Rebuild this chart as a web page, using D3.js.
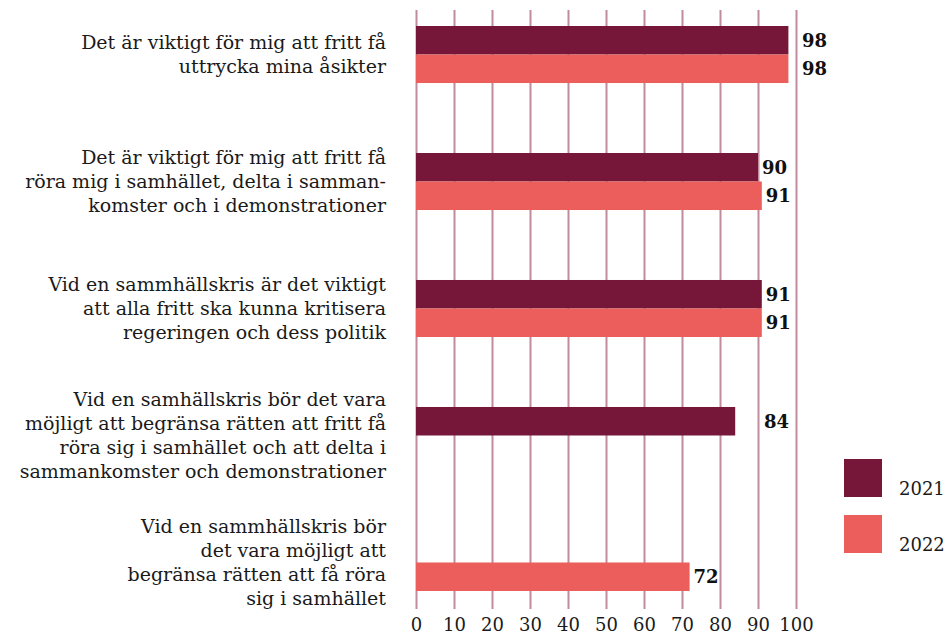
<!DOCTYPE html>
<html>
<head>
<meta charset="utf-8">
<script src="https://cdn.jsdelivr.net/npm/d3@7"></script>
<style>
  body { margin: 0; background: #fff; }
  svg text { font-family: "DejaVu Serif", serif; }
</style>
</head>
<body>
<div id="chart"></div>
<script>
// statements, one array of lines each
var statements = [
  ["Det är viktigt för mig att fritt få", "uttrycka mina åsikter"],
  ["Det är viktigt för mig att fritt få", "röra mig i samhället, delta i samman-", "komster och i demonstrationer"],
  ["Vid en sammhällskris är det viktigt", "att alla fritt ska kunna kritisera", "regeringen och dess politik"],
  ["Vid en samhällskris bör det vara", "möjligt att begränsa rätten att fritt få", "röra sig i samhället och att delta i", "sammankomster och demonstrationer"],
  ["Vid en sammhällskris bör", "det vara möjligt att", "begränsa rätten att få röra", "sig i samhället"]
];
var years = ["2021", "2022"];
var values2021 = [98, 90, 91, 84, null];
var values2022 = [98, 91, 91, null, 72];
var ticks = [0, 10, 20, 30, 40, 50, 60, 70, 80, 90, 100];

var colors = {"2021": "#761739", "2022": "#eb5e5b"};
var gridColor = "#bf8b9d";

var width = 952, height = 634;

var svg = d3.select("#chart").append("svg")
  .attr("width", width)
  .attr("height", height);

var x = d3.scaleLinear().domain([0, 100]).range([416, 796]);

var y = d3.scaleBand()
  .domain(d3.range(statements.length))
  .range([26, 591])
  .paddingInner(0.551)
  .paddingOuter(0);

var ySub = d3.scaleBand().domain(years).range([0, y.bandwidth()]);

var rows = statements.map(function(s, i){
  return {i: i, lines: s, "2021": values2021[i], "2022": values2022[i]};
});

// gridlines + tick labels
var axis = svg.append("g")
  .attr("transform", "translate(0,609)")
  .call(d3.axisBottom(x).tickValues(ticks).tickSizeInner(-599).tickSizeOuter(0).tickPadding(9));
axis.select(".domain").remove();
axis.selectAll(".tick line").attr("stroke", gridColor).attr("stroke-width", 2);
axis.selectAll(".tick text")
  .attr("fill", "#1a1a1a")
  .style("font-size", "18px")
  .style("font-family", "DejaVu Serif, serif");

// bars
var group = svg.append("g").selectAll("g")
  .data(rows)
  .enter().append("g")
  .attr("transform", function(d){ return "translate(0," + y(d.i) + ")"; });

var bars = group.selectAll("rect")
  .data(function(d){
    return years.filter(function(k){ return d[k] != null; })
      .map(function(k){ return {year: k, value: d[k]}; });
  })
  .enter();

bars.append("rect")
  .attr("x", x(0))
  .attr("y", function(d){ return ySub(d.year); })
  .attr("width", function(d){ return x(d.value) - x(0); })
  .attr("height", ySub.bandwidth())
  .attr("fill", function(d){ return colors[d.year]; });

bars.append("text")
  .text(function(d){ return d.value; })
  .attr("y", function(d){ return ySub(d.year) + ySub.bandwidth() / 2; })
  .attr("dy", "0.36em")
  .attr("fill", "#111")
  .style("font-size", "18px")
  .style("font-weight", "bold")
  .attr("x", function(d){
    var w = this.getComputedTextLength();
    var pos = x(d.value) + 4;
    // hop over a gridline if the label would sit on it
    ticks.forEach(function(t){
      var gx = x(t);
      if (gx > pos - 1 && gx < pos + w) pos = gx + 6;
    });
    return pos;
  });

// category labels
var lineH = 24;
group.append("text")
  .attr("text-anchor", "end")
  .attr("fill", "#1a1a1a")
  .style("font-size", "19px")
  .each(function(d){
    var t = d3.select(this);
    var n = d.lines.length;
    var mid = y.bandwidth() / 2;
    d.lines.forEach(function(l, j){
      t.append("tspan")
        .attr("x", 386)
        .attr("y", mid + (j - (n - 1) / 2) * lineH)
        .attr("dy", "0.36em")
        .text(l);
    });
  });

// legend
var legend = svg.append("g").selectAll("g")
  .data(years)
  .enter().append("g")
  .attr("transform", function(d, i){ return "translate(844," + (459 + i * 56) + ")"; });

legend.append("rect")
  .attr("width", 38)
  .attr("height", 38)
  .attr("fill", function(d){ return colors[d]; });

legend.append("text")
  .attr("x", 55)
  .attr("y", 36)
  .attr("fill", "#1a1a1a")
  .style("font-size", "18px")
  .text(function(d){ return d; });
</script>
</body>
</html>
